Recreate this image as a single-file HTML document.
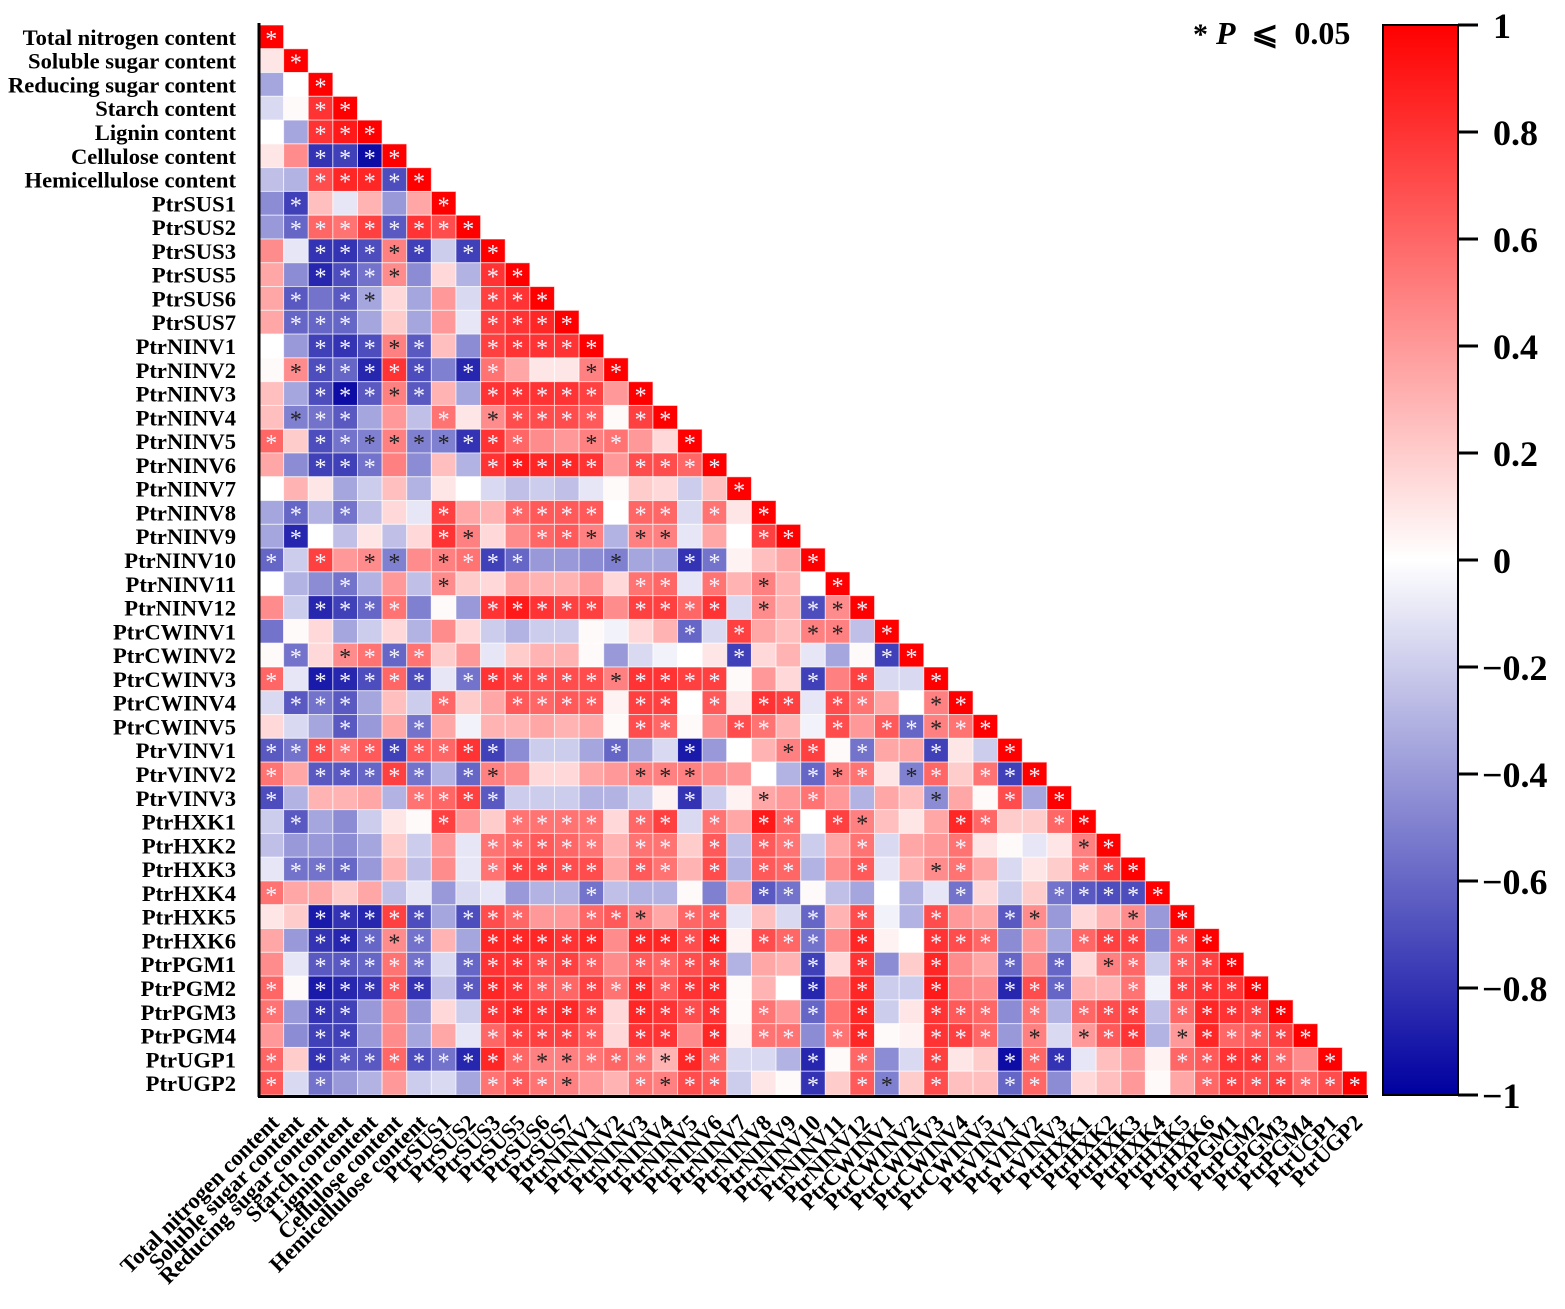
<!DOCTYPE html>
<html><head><meta charset="utf-8"><style>
html,body{margin:0;padding:0;background:#fff}
svg{display:block;font-family:"Liberation Serif",serif;font-weight:bold}
</style></head><body>
<svg id="chart" width="1565" height="1309" viewBox="0 0 1565 1309" xmlns="http://www.w3.org/2000/svg">
<defs><linearGradient id="cbg" x1="0" y1="0" x2="0" y2="1">
<stop offset="0" stop-color="#ff0000"/><stop offset="0.5" stop-color="#ffffff"/><stop offset="1" stop-color="#0000a0"/>
</linearGradient></defs>
<g id="cells"></g>
<g id="ylabels"></g>
<g id="xlabels"></g>
<line x1="259" y1="23" x2="259" y2="1097" stroke="#000" stroke-width="3"/>
<line x1="258" y1="1096.5" x2="1368" y2="1096.5" stroke="#000" stroke-width="3"/>
<text x="1193" y="44" font-size="32" xml:space="preserve"><tspan font-size="30">*</tspan> <tspan font-style="italic">P</tspan>  ⩽  0.05</text>
<rect x="1383" y="25" width="75" height="1070" fill="url(#cbg)" stroke="#000" stroke-width="2"/>
<g id="cbticks"></g>
</svg>
<script>
const labels=["Total nitrogen content","Soluble sugar content","Reducing sugar content","Starch content","Lignin content","Cellulose content","Hemicellulose content","PtrSUS1","PtrSUS2","PtrSUS3","PtrSUS5","PtrSUS6","PtrSUS7","PtrNINV1","PtrNINV2","PtrNINV3","PtrNINV4","PtrNINV5","PtrNINV6","PtrNINV7","PtrNINV8","PtrNINV9","PtrNINV10","PtrNINV11","PtrNINV12","PtrCWINV1","PtrCWINV2","PtrCWINV3","PtrCWINV4","PtrCWINV5","PtrVINV1","PtrVINV2","PtrVINV3","PtrHXK1","PtrHXK2","PtrHXK3","PtrHXK4","PtrHXK5","PtrHXK6","PtrPGM1","PtrPGM2","PtrPGM3","PtrPGM4","PtrUGP1","PtrUGP2"];
const corr=[
[1],
[.1,1],
[-.35,0,1],
[-.15,.02,.8,1],
[0,-.35,.8,.9,1],
[.1,.45,-.8,-.75,-.95,1],
[-.25,-.3,.7,.85,.85,-.7,1],
[-.45,-.75,.25,-.1,.3,-.4,.35,1],
[-.4,-.6,.6,.55,.75,-.65,.8,.7,1],
[.45,-.1,-.8,-.8,-.7,.5,-.75,-.2,-.75,1],
[.35,-.45,-.85,-.7,-.55,.45,-.45,.15,-.3,.8,1],
[.35,-.65,-.55,-.65,-.35,.15,-.35,.4,-.15,.75,.8,1],
[.35,-.6,-.6,-.6,-.35,.2,-.35,.4,-.1,.75,.8,.85,1],
[0,-.4,-.75,-.8,-.7,.5,-.65,.25,-.45,.75,.8,.8,.8,1],
[.02,.45,-.7,-.6,-.85,.8,-.7,-.5,-.85,.55,.35,.1,.1,.5,1],
[.25,-.35,-.7,-.95,-.65,.5,-.65,.3,-.35,.8,.8,.8,.8,.75,.4,1],
[.25,-.5,-.55,-.65,-.35,.4,-.25,.55,.1,.45,.7,.7,.7,.65,.02,.75,1],
[.6,.2,-.7,-.55,-.5,.5,-.5,-.5,-.8,.8,.6,.45,.4,.5,.55,.4,.15,1],
[.35,-.45,-.75,-.75,-.55,.5,-.45,.25,-.3,.8,.9,.85,.85,.8,.4,.7,.7,.6,1],
[0,.3,.1,-.35,-.2,.25,-.3,.1,0,-.15,-.25,-.2,-.25,-.1,.02,.2,.15,-.2,.25,1],
[-.35,-.6,-.3,-.55,-.25,.15,-.1,.75,.35,.3,.6,.65,.65,.65,0,.6,.6,-.15,.55,.1,1],
[-.35,-.85,0,-.25,.1,-.25,.15,.8,.5,.15,.45,.6,.65,.5,-.3,.5,.5,-.1,.35,0,.75,1],
[-.6,-.2,.75,.4,.45,-.5,.45,.5,.55,-.75,-.6,-.4,-.4,-.45,-.5,-.35,-.35,-.8,-.55,.05,.25,.35,1],
[0,-.3,-.45,-.55,-.3,.4,-.25,.45,.2,.15,.35,.3,.3,.4,.15,.55,.6,-.1,.55,.3,.5,.3,0,1],
[.45,-.2,-.85,-.75,-.6,.55,-.5,.02,-.4,.8,.9,.8,.75,.75,.45,.75,.75,.6,.8,-.15,.45,.3,-.7,.45,1],
[-.55,.02,.15,-.35,-.2,.15,-.3,.45,.15,-.2,-.3,-.2,-.2,.02,-.05,.15,.3,-.6,-.15,.75,.35,.25,.5,.5,-.25,1],
[.02,-.55,.15,.45,.55,-.6,.55,.2,.4,-.1,.2,.3,.3,.02,-.4,-.15,-.05,0,.1,-.75,.15,.3,-.1,-.35,.02,-.75,1],
[.6,-.1,-.9,-.85,-.7,.6,-.7,-.1,-.55,.8,.75,.7,.7,.7,.5,.8,.8,.75,.75,.02,.4,.15,-.75,.5,.75,-.15,-.15,1],
[-.15,-.65,-.55,-.65,-.35,.25,-.2,.6,.2,.35,.65,.6,.65,.65,.05,.75,.75,0,.65,.1,.8,.75,-.1,.7,.55,.35,0,.5,1],
[.15,-.15,-.35,-.65,-.4,.35,-.55,.35,-.05,.3,.3,.35,.3,.35,.02,.7,.6,.02,.45,.7,.55,.3,-.05,.7,.4,.65,-.6,.5,.55,1],
[-.65,-.55,.7,.55,.65,-.75,.65,.6,.8,-.75,-.45,-.2,-.2,-.35,-.6,-.35,-.15,-.9,-.4,0,.3,.5,.75,.02,-.55,.35,.35,-.75,.1,-.2,1],
[.55,.35,-.65,-.65,-.6,.75,-.55,-.3,-.6,.5,.45,.15,.15,.35,.4,.5,.5,.5,.45,.4,0,-.3,-.6,.5,.55,.1,-.5,.6,.2,.55,-.75,1],
[-.7,-.3,.3,.3,.35,-.3,.55,.6,.75,-.65,-.2,-.2,-.2,-.3,-.3,-.2,.05,-.8,-.2,.05,.35,.4,.55,.4,-.3,.35,.25,-.45,.35,.02,.7,-.35,1],
[-.2,-.65,-.35,-.45,-.2,.1,.02,.75,.4,.2,.55,.55,.55,.55,.15,.6,.75,-.15,.55,.35,.9,.6,0,.75,.5,.25,.1,.35,.85,.6,.2,.2,.6,1],
[-.25,-.4,-.4,-.45,-.35,.2,-.2,.4,-.1,.55,.6,.65,.6,.55,.3,.55,.55,.2,.65,-.25,.65,.55,-.2,.35,.55,-.15,.35,.4,.55,.1,.02,-.1,.1,.5,1],
[-.1,-.55,-.55,-.6,-.4,.3,-.25,.45,-.1,.55,.75,.75,.7,.7,.35,.65,.55,.3,.7,-.3,.65,.6,-.3,.45,.65,-.1,.3,.45,.55,.35,-.15,.1,.2,.55,.75,1],
[.55,.35,.35,.2,.35,-.25,-.1,-.4,-.15,-.1,-.4,-.3,-.3,-.55,-.25,-.3,-.3,.02,-.5,.35,-.65,-.55,.02,-.25,-.35,0,-.3,-.1,-.55,.15,-.2,.2,-.55,-.65,-.7,-.7,1],
[.1,.2,-.9,-.8,-.85,.75,-.7,-.35,-.7,.7,.6,.4,.4,.6,.65,.5,.35,.6,.65,-.1,.25,-.15,-.6,.3,.7,-.05,-.3,.7,.4,.35,-.65,.45,-.4,.15,.3,.45,-.4,1],
[.35,-.4,-.8,-.85,-.6,.45,-.55,.3,-.35,.85,.85,.85,.8,.85,.45,.85,.85,.7,.9,.05,.7,.6,-.55,.45,.85,.05,0,.8,.7,.6,-.45,.4,-.35,.6,.75,.75,-.45,.65,1],
[.45,-.1,-.65,-.65,-.6,.55,-.55,-.15,-.6,.8,.8,.7,.75,.65,.45,.65,.6,.7,.75,-.3,.35,.3,-.75,.15,.8,-.45,.2,.85,.45,.35,-.6,.45,-.6,.15,.5,.6,-.2,.65,.75,1],
[.6,.02,-.9,-.85,-.8,.65,-.8,-.25,-.65,.85,.8,.65,.6,.75,.55,.85,.65,.8,.85,.02,.3,0,-.85,.5,.85,-.2,-.2,.9,.5,.45,-.85,.7,-.6,.3,.3,.55,-.05,.75,.8,.8,1],
[.55,-.4,-.8,-.75,-.4,.45,-.4,.15,-.2,.8,.85,.8,.85,.75,.15,.85,.8,.7,.8,.02,.55,.4,-.6,.55,.85,-.2,.1,.8,.65,.6,-.45,.55,-.3,.6,.7,.75,-.25,.6,.85,.8,.75,1],
[.4,-.45,-.75,-.75,-.4,.45,-.35,.35,-.1,.6,.75,.75,.75,.65,.15,.8,.8,.45,.85,.05,.55,.55,-.45,.55,.85,.02,.05,.8,.75,.6,-.4,.5,-.15,.4,.65,.8,-.3,.4,.85,.6,.65,.75,1],
[.6,.2,-.8,-.65,-.65,.6,-.7,-.55,-.85,.85,.6,.5,.5,.55,.6,.55,.3,.85,.6,-.15,-.15,-.3,-.85,.02,.6,-.45,-.15,.75,.1,.2,-.95,.6,-.8,-.1,.25,.4,.05,.6,.65,.8,.8,.6,.45,1],
[.65,-.15,-.55,-.4,-.3,.4,-.2,-.15,-.35,.55,.65,.55,.5,.4,.3,.55,.5,.7,.65,-.2,.1,.02,-.8,.2,.65,-.5,.2,.7,.25,.25,-.6,.6,-.45,.15,.25,.4,.02,.35,.6,.75,.7,.75,.6,.7,1]
];
const sig=[
"1","01","001","0011","00111","001111","0011111","01000001","011111111","0011111011",
"00111100011","010110000111","0111000001111","00111110011111","011111101100011",
"0011111001111101","01110001011111011","101111111110011001","0011100001111101111",
"00000000000000000001","010100010011110110101","0100000110011101100011",
"10101101111000100110001","000100010000000110101001","0011110001111101111010111",
"00000000000000000101001101","010111100000000000010000011",
"1011111011111111111000101001","01110001001111011010110110011",
"000100100000000110011001011111","1111111111000010010001101001001",
"10111110110000011100001110110111","100000111100000001001010000100101",
"0100000100111101101011011000110011","00000000011111011010110010001000011",
"011100000111110110101100100110000111","1000000000000100000011000000100011111",
"00111110111001110110001010010011000101","001111100111110111101110100111000111011",
"00111110111111011110001010010010101101110","10111110111111111110001010010011100101111",
"101100000111110111101010100111010111011111","0011000001111101101011011001110101110111111",
"10111111111111111110001010010011100001111101","101000000111100111100010110100110000001111111"
];
const cbTicks=[1,0.8,0.6,0.4,0.2,0,-0.2,-0.4,-0.6,-0.8,-1];
const cbTickLabels=["1","0.8","0.6","0.4","0.2","0","\u22120.2","\u22120.4","\u22120.6","\u22120.8","\u22121"];

const NS="http://www.w3.org/2000/svg";
const X0=259,Y0=25,CW=(1367-259)/labels.length,CH=(1095-25)/labels.length;
const xPos=i=>X0+i*CW, yPos=i=>Y0+i*CH;
const cbY=v=>25+(1-v)/2*1070;
function color(v){
  v=Math.max(-1,Math.min(1,v));
  if(v>=0){const g=Math.round(255*(1-v));return `rgb(255,${g},${g})`;}
  const t=-v;return `rgb(${Math.round(255*(1-t))},${Math.round(255*(1-t))},${Math.round(255-95*t)})`;
}
const cells=document.getElementById('cells');
corr.forEach((row,r)=>{
  row.forEach((v,c)=>{
    const rect=document.createElementNS(NS,'rect');
    
    
    rect.setAttribute('x',xPos(c));rect.setAttribute('y',yPos(r));
    rect.setAttribute('width',CW);rect.setAttribute('height',CH);
    rect.setAttribute('fill',color(v));rect.setAttribute('stroke','rgba(255,255,255,0.6)');rect.setAttribute('stroke-width','1');
    cells.appendChild(rect);
    if(sig[r]&&sig[r][c]==='1'){
      const s=document.createElementNS(NS,'text');
      
      
      s.setAttribute('x',xPos(c)+CW/2);s.setAttribute('y',yPos(r)+CH/2+10);
      s.setAttribute('text-anchor','middle');s.setAttribute('font-size','24');s.setAttribute('font-weight','normal');
      s.setAttribute('fill',Math.abs(v)>=0.55?'#f4f4ff':'#222');
      s.textContent='*';cells.appendChild(s);
    }
  });
});
const yl=document.getElementById('ylabels'),xl=document.getElementById('xlabels');
labels.forEach((l,i)=>{
  const t=document.createElementNS(NS,'text');
  
  
  t.setAttribute('x',236);t.setAttribute('y',yPos(i)+CH/2+8);
  t.setAttribute('text-anchor','end');t.setAttribute('font-size','22.6');
  t.textContent=l;yl.appendChild(t);
  const u=document.createElementNS(NS,'text');
  
  
  const cx=xPos(i)+CW/2+9,cy=1124;
  u.setAttribute('x',cx);u.setAttribute('y',cy);
  u.setAttribute('text-anchor','end');u.setAttribute('font-size','22.6');
  u.setAttribute('transform',`rotate(-45 ${cx} ${cy})`);
  u.textContent=l;xl.appendChild(u);
});
const cbt=document.getElementById('cbticks');
cbTicks.forEach((v,i)=>{
  const y=cbY(v);
  const ln=document.createElementNS(NS,'line');
  
  
  ln.setAttribute('x1',1458);ln.setAttribute('x2',1478);ln.setAttribute('y1',y);ln.setAttribute('y2',y);
  ln.setAttribute('stroke','#000');ln.setAttribute('stroke-width','3');cbt.appendChild(ln);
  const t=document.createElementNS(NS,'text');
  
  
  const neg=v<0;
  t.setAttribute('x',neg?1482:1493);t.setAttribute('y',y+13);
  t.setAttribute('font-size','36');
  t.textContent=cbTickLabels[i];cbt.appendChild(t);
});
</script>
</body></html>
